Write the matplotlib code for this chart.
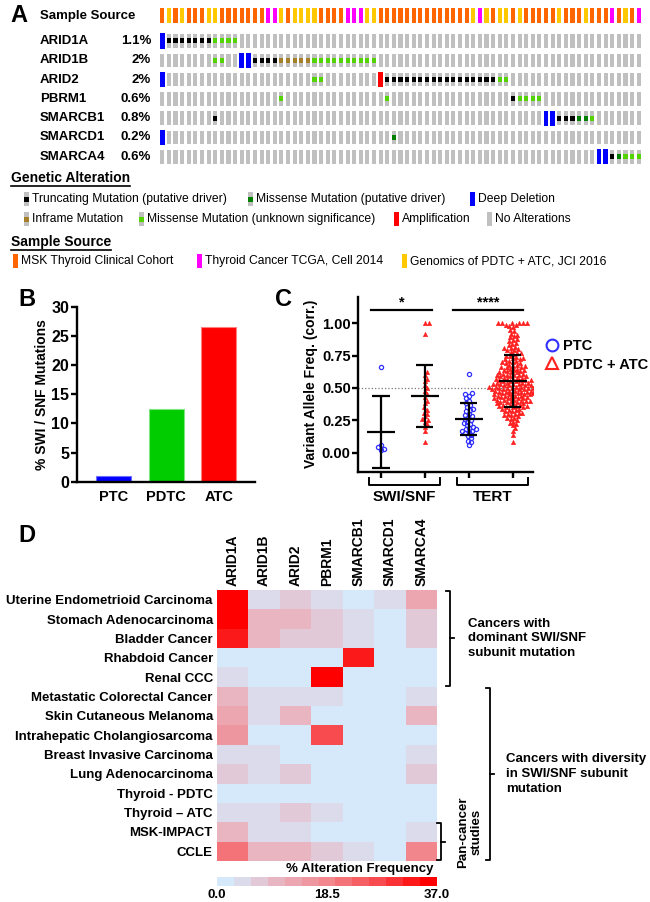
import numpy as np
import matplotlib
matplotlib.use('Agg')
import matplotlib.pyplot as plt
import matplotlib.transforms as mtransforms
from matplotlib.colors import LinearSegmentedColormap, ListedColormap, Normalize
from matplotlib.lines import Line2D
from matplotlib.patches import Rectangle

plt.rcParams['font.family'] = ['Liberation Sans', 'DejaVu Sans']

# ---------------- data ----------------
# panel A: oncoprint
genes = ['ARID1A', 'ARID1B', 'ARID2', 'PBRM1', 'SMARCB1', 'SMARCD1', 'SMARCA4']
gene_pct = ['1.1%', '2%', '2%', '0.6%', '0.8%', '0.2%', '0.6%']
# O = MSK cohort, M = TCGA, Y = PDTC + ATC JCI
sample_source = 'OYOYOOOYYOOOOOOOMMYOYYYYOOOOMMMYYOOOOOOOOOOOOOOYMYOYYOYOOOOOYOOOYOOOMOYOM'
alterations = {
    'ARID1A': {'deep': [0], 'trunc': [1, 2, 3, 4, 5, 6, 7], 'miss_unk': [8, 9, 10, 11]},
    'ARID1B': {'miss_unk': [8, 9, 23, 24, 25, 26, 27, 28, 29, 30, 31, 32], 'deep': [12, 13],
               'trunc': [14, 15, 16, 17], 'inframe': [18, 19, 20, 21, 22]},
    'ARID2': {'deep': [0], 'miss_unk': [23, 24, 51, 52], 'amp': [33],
              'trunc': [34, 35, 36, 37, 38, 39, 40, 41, 42, 43, 44, 45, 46, 47, 48, 49, 50]},
    'PBRM1': {'miss_unk': [18, 34, 54, 55, 56, 57], 'trunc': [53]},
    'SMARCB1': {'trunc': [8, 60, 61, 62], 'deep': [58, 59], 'miss_drv': [63, 64], 'miss_unk': [65]},
    'SMARCD1': {'deep': [0], 'miss_drv': [35]},
    'SMARCA4': {'deep': [66, 67], 'trunc': [68], 'miss_drv': [69], 'miss_unk': [70, 71, 72]},
}

# panel B
b_groups = ['PTC', 'PDTC', 'ATC']
b_values = [1.0, 12.5, 26.5]

# panel C: variant allele frequencies
swi_ptc = [0.66, 0.06, 0.04, 0.03, 0.02]
swi_pdtc_atc = [1.0, 1.0, 0.92, 0.62, 0.60, 0.57, 0.55, 0.52, 0.50, 0.48, 0.45, 0.43, 0.40,
                0.38, 0.35, 0.33, 0.31, 0.30, 0.28, 0.26, 0.25, 0.24, 0.22, 0.20, 0.17, 0.08]
tert_ptc = [0.61, 0.46, 0.45, 0.44, 0.42, 0.40, 0.38, 0.37, 0.35, 0.34, 0.33, 0.32, 0.30,
            0.29, 0.28, 0.27, 0.26, 0.25, 0.24, 0.23, 0.22, 0.21, 0.20, 0.19, 0.18, 0.18,
            0.17, 0.17, 0.16, 0.15, 0.14, 0.13, 0.11, 0.09, 0.08, 0.06]
tert_pdtc_atc = [
    1.00, 1.00, 1.00, 1.00, 1.00, 1.00, 0.99, 0.99, 0.98, 0.97,
    0.95, 0.94, 0.92, 0.91, 0.90, 0.89, 0.88, 0.87, 0.86, 0.85,
    0.84, 0.83, 0.82, 0.81, 0.81, 0.80, 0.79, 0.79, 0.78, 0.77,
    0.77, 0.76, 0.75, 0.75, 0.74, 0.73, 0.73, 0.72, 0.72, 0.71,
    0.71, 0.70, 0.70, 0.69, 0.69, 0.68, 0.68, 0.67, 0.67, 0.66,
    0.66, 0.66, 0.65, 0.65, 0.64, 0.64, 0.64, 0.63, 0.63, 0.62,
    0.62, 0.62, 0.61, 0.61, 0.60, 0.60, 0.60, 0.60, 0.59, 0.59,
    0.59, 0.58, 0.58, 0.58, 0.57, 0.57, 0.57, 0.56, 0.56, 0.56,
    0.56, 0.55, 0.55, 0.55, 0.54, 0.54, 0.54, 0.54, 0.53, 0.53,
    0.53, 0.53, 0.52, 0.52, 0.52, 0.52, 0.51, 0.51, 0.51, 0.51,
    0.50, 0.50, 0.50, 0.50, 0.50, 0.50, 0.49, 0.49, 0.49, 0.49,
    0.48, 0.48, 0.48, 0.48, 0.47, 0.47, 0.47, 0.47, 0.46, 0.46,
    0.46, 0.46, 0.45, 0.45, 0.45, 0.45, 0.44, 0.44, 0.44, 0.44,
    0.43, 0.43, 0.43, 0.42, 0.42, 0.42, 0.42, 0.41, 0.41, 0.41,
    0.40, 0.40, 0.40, 0.40, 0.39, 0.39, 0.39, 0.38, 0.38, 0.38,
    0.37, 0.37, 0.37, 0.36, 0.36, 0.36, 0.35, 0.35, 0.35, 0.34,
    0.34, 0.33, 0.33, 0.32, 0.32, 0.31, 0.31, 0.30, 0.30, 0.29,
    0.29, 0.28, 0.27, 0.27, 0.26, 0.25, 0.24, 0.23, 0.22, 0.21,
    0.19, 0.17, 0.14, 0.08,
]

# panel D: % alteration frequency
d_genes = ['ARID1A', 'ARID1B', 'ARID2', 'PBRM1', 'SMARCB1', 'SMARCD1', 'SMARCA4']
d_cancers = ['Uterine Endometrioid Carcinoma', 'Stomach Adenocarcinoma', 'Bladder Cancer',
             'Rhabdoid Cancer', 'Renal CCC', 'Metastatic Colorectal Cancer',
             'Skin Cutaneous Melanoma', 'Intrahepatic Cholangiosarcoma',
             'Breast Invasive Carcinoma', 'Lung Adenocarcinoma', 'Thyroid - PDTC',
             'Thyroid \u2013 ATC', 'MSK-IMPACT', 'CCLE']
d_freq = [
    [37, 4, 7, 4, 0, 4, 13],
    [35, 10, 10, 7, 4, 0, 7],
    [33, 10, 7, 7, 4, 0, 7],
    [0, 0, 0, 0, 32, 0, 0],
    [4, 0, 0, 37, 0, 0, 0],
    [10, 4, 4, 4, 0, 0, 4],
    [12, 4, 10, 0, 0, 0, 10],
    [16, 0, 0, 27, 0, 0, 0],
    [4, 4, 0, 0, 0, 0, 4],
    [7, 4, 7, 0, 0, 0, 7],
    [0, 0, 0, 0, 0, 0, 0],
    [4, 4, 7, 4, 0, 0, 0],
    [10, 4, 4, 0, 0, 0, 4],
    [21, 10, 10, 8, 4, 0, 18],
]

# ---------------- style ----------------
W, H = 650, 902
fig = plt.figure(figsize=(W / 100, H / 100), dpi=100)

src_col = {'O': '#ff6600', 'M': '#ff00ff', 'Y': '#ffc800'}
alt_col = {'trunc': '#000000', 'miss_drv': '#008000', 'miss_unk': '#53d400',
           'inframe': '#a68028', 'deep': '#0000ff', 'amp': '#ff0000', 'none': '#c0c0c0'}
GRAY = '#c0c0c0'
LEG_FS = 8.7


def box(l, t, w, h):
    return fig.add_axes([l / W, 1 - (t + h) / H, w / W, h / H])


def ftext(x, y, s, **kw):
    return fig.text(x / W, 1 - y / H, s, **kw)


def underline(t):
    r = fig.canvas.get_renderer()
    bb = t.get_window_extent(renderer=r)
    fig.add_artist(Line2D([bb.x0 / W, bb.x1 / W], [(bb.y0 - 1) / H] * 2,
                          transform=fig.transFigure, color='k', lw=1.2))


# overlay axes in pixel units for legends
ov = box(0, 0, W, H)
ov.set_xlim(0, W)
ov.set_ylim(H, 0)
ov.axis('off')

# ---------------- panel A ----------------
n = len(sample_source)
axa = box(159, 5, 483, 162)
axa.set_xlim(-0.5, n - 0.5)
axa.set_ylim(6.53, -1.865)
axa.axis('off')
bw = 0.62
src_row = -1.32
axa.bar(range(n), 0.8, bottom=src_row - 0.4, width=bw,
        color=[src_col[s] for s in sample_source], lw=0)
for g, gene in enumerate(genes):
    axa.bar(range(n), 0.7, bottom=g - 0.35, width=bw, color=GRAY, lw=0)
    for kind, cols in alterations[gene].items():
        if kind in ('deep', 'amp'):
            axa.bar(cols, 0.78, bottom=g - 0.39, width=0.72, color=alt_col[kind], lw=0)
        else:
            axa.bar(cols, 0.26, bottom=g - 0.13, width=bw, color=alt_col[kind], lw=0)

tr = mtransforms.blended_transform_factory(fig.transFigure, axa.transData)
for g, gene in enumerate(genes):
    axa.text(40 / W, g, gene, transform=tr, ha='left', va='center',
             fontsize=9.5, fontweight='bold')
    axa.text(151 / W, g, gene_pct[g], transform=tr, ha='right', va='center',
             fontsize=9.5, fontweight='bold')
ftext(10, 15, 'A', fontsize=17, fontweight='bold', va='center')
ftext(40, 16, 'Sample Source', fontsize=9.5, fontweight='bold', va='center')

# genetic alteration legend
underline(ftext(11, 178, 'Genetic Alteration', fontsize=10, fontweight='bold', va='center'))
leg_rows = [
    (199, [('trunc', 'Truncating Mutation (putative driver)', 24),
           ('miss_drv', 'Missense Mutation (putative driver)', 248),
           ('deep', 'Deep Deletion', 470)]),
    (219, [('inframe', 'Inframe Mutation', 24),
           ('miss_unk', 'Missense Mutation (unknown significance)', 139),
           ('amp', 'Amplification', 394),
           ('none', 'No Alterations', 487)]),
]
for yy, items in leg_rows:
    for kind, label, xx in items:
        if kind in ('deep', 'amp', 'none'):
            ov.add_patch(Rectangle((xx, yy - 7), 5, 14, color=alt_col[kind], lw=0))
        else:
            ov.add_patch(Rectangle((xx, yy - 7), 5, 14, color=GRAY, lw=0))
            ov.add_patch(Rectangle((xx, yy - 2.5), 5, 5, color=alt_col[kind], lw=0))
        ov.text(xx + 8, yy, label, fontsize=LEG_FS, va='center', ha='left')

underline(ftext(11, 242, 'Sample Source', fontsize=10, fontweight='bold', va='center'))
for code, label, xx in [('O', 'MSK Thyroid Clinical Cohort', 13),
                        ('M', 'Thyroid Cancer TCGA, Cell 2014', 197),
                        ('Y', 'Genomics of PDTC + ATC, JCI 2016', 402)]:
    ov.add_patch(Rectangle((xx, 254), 5, 14, color=src_col[code], lw=0))
    ov.text(xx + 8, 261, label, fontsize=LEG_FS, va='center', ha='left')

# ---------------- panel B ----------------
axb = box(77, 306.7, 178, 175)
axb.bar(range(3), b_values, width=0.67, color=['#0000ff', '#00cc00', '#ff0000'],
        edgecolor=['#6f6fff', '#7fe57f', '#ff8080'], lw=0.8)
axb.set_xlim(-0.7, 2.69)
axb.set_ylim(0, 30)
axb.set_yticks(range(0, 31, 5))
axb.set_xticks(range(3))
axb.set_xticklabels(b_groups)
for s in ('top', 'right'):
    axb.spines[s].set_visible(False)
for s in ('left', 'bottom'):
    axb.spines[s].set_linewidth(1.7)
axb.tick_params(width=1.7, length=4, pad=1.5, labelsize=11.5)
axb.tick_params(axis='x', length=0, pad=6, labelsize=10.5)
for lab in axb.get_xticklabels() + axb.get_yticklabels():
    lab.set_fontweight('bold')
axb.set_ylabel('% SWI / SNF Mutations', fontsize=10, fontweight='bold')
axb.yaxis.set_label_coords(-0.155, 0.5)
ftext(18, 300, 'B', fontsize=17, fontweight='bold', va='center')

# ---------------- panel C ----------------
axc = box(358.3, 296.7, 175, 175)
axc.set_xlim(-0.51, 3.47)
axc.set_ylim(-0.147, 1.205)
sx, sy = 43.9, 129.4   # pixels per data unit
diam = 3.8


def swarm(vals):
    ys = np.asarray(vals) * sy
    offs = np.zeros(len(ys))
    px, py = [], []
    for i in np.argsort(ys, kind='stable'):
        y = ys[i]
        cands = [0.0]
        for a, b in zip(px, py):
            dy = abs(y - b)
            if dy < diam:
                dx = np.sqrt(diam ** 2 - dy ** 2)
                cands += [a + dx, a - dx]
        cands.sort(key=abs)
        for c in cands:
            if all((c - a) ** 2 + (y - b) ** 2 >= diam ** 2 - 1e-6 for a, b in zip(px, py)):
                break
        offs[i] = c
        px.append(c)
        py.append(y)
    return offs / sx


groups = [swi_ptc, swi_pdtc_atc, tert_ptc, tert_pdtc_atc]
for k, vals in enumerate(groups):
    xs = k + swarm(vals)
    if k % 2 == 0:
        axc.plot(xs, vals, 'o', ms=3.0, mfc='none', mec='#3030ff', mew=0.9, zorder=3)
    else:
        axc.plot(xs, vals, '^', ms=3.3, color='#ff2020', mec='#ff2020', mew=0.3, zorder=3)
    m, sd = np.mean(vals), np.std(vals, ddof=1)
    axc.hlines(m, k - 0.32, k + 0.32, color='k', lw=1.6, zorder=4)
    axc.hlines([m - sd, m + sd], k - 0.2, k + 0.2, color='k', lw=1.6, zorder=4)
    axc.vlines(k, m - sd, m + sd, color='k', lw=1.6, zorder=4)

axc.axhline(0.5, color='#777777', ls=':', lw=0.9, zorder=1)
axc.plot([-0.22, 1.17], [1.10, 1.10], color='k', lw=1.6)
axc.text(0.47, 1.11, '*', ha='center', va='bottom', fontsize=10.5, fontweight='bold')
axc.plot([1.65, 3.24], [1.10, 1.10], color='k', lw=1.6)
axc.text(2.45, 1.11, '****', ha='center', va='bottom', fontsize=10.5, fontweight='bold')

axc.set_yticks([0, 0.25, 0.5, 0.75, 1.0])
axc.set_yticklabels(['0.00', '0.25', '0.50', '0.75', '1.00'])
axc.set_xticks(range(4))
axc.set_xticklabels([])
for s in ('top', 'right'):
    axc.spines[s].set_visible(False)
for s in ('left', 'bottom'):
    axc.spines[s].set_linewidth(1.7)
axc.tick_params(width=1.7, length=4, pad=1.5, labelsize=10.5)
for lab in axc.get_yticklabels():
    lab.set_fontweight('bold')
axc.set_ylabel('Variant Allele Freq. (corr.)', fontsize=10, fontweight='bold')
axc.yaxis.set_label_coords(-0.233, 0.5)

trc = mtransforms.blended_transform_factory(axc.transData, axc.transAxes)
for (x0, x1), lab in [((-0.26, 1.35), 'SWI/SNF'), ((1.74, 3.36), 'TERT')]:
    axc.plot([x0, x0, x1, x1], [-0.035, -0.077, -0.077, -0.035], color='k', lw=1.4,
             transform=trc, clip_on=False)
    axc.text((x0 + x1) / 2, -0.145, lab, transform=trc, ha='center', va='center',
             fontsize=11, fontweight='bold')

handles = [Line2D([], [], marker='o', ls='none', ms=8.5, mfc='none', mec='#3030ff', mew=1.5),
           Line2D([], [], marker='^', ls='none', ms=8.5, mfc='none', mec='#ff2020', mew=1.5)]
fig.legend(handles, ['PTC', 'PDTC + ATC'], loc='upper left',
           bbox_to_anchor=(535 / W, 1 - 329 / H), frameon=False,
           handlelength=0.9, handletextpad=0.35, labelspacing=0.3, borderpad=0.2,
           prop={'weight': 'bold', 'size': 10.5})
ftext(283, 300, 'C', fontsize=17, fontweight='bold', va='center', ha='center')

# ---------------- panel D ----------------
base = LinearSegmentedColormap.from_list(
    'alt', [(0, '#d6e9fb'), (0.09, '#dcdaeb'), (0.25, '#e8b6c2'), (0.5, '#f2878e'),
            (0.75, '#f84c50'), (1, '#ff0000')])
cmap = ListedColormap(base(np.linspace(0, 1, 13)))
norm = Normalize(0, 37)

axd = box(217, 590, 220, 271)
axd.imshow(np.array(d_freq), cmap=cmap, norm=norm, aspect='auto', interpolation='nearest')
axd.xaxis.tick_top()
axd.set_xticks(range(len(d_genes)))
axd.set_xticklabels(d_genes, rotation=90, fontsize=10, fontweight='bold')
axd.set_yticks(range(len(d_cancers)))
axd.set_yticklabels(d_cancers, fontsize=9.5, fontweight='bold')
axd.tick_params(length=0, pad=3)
for s in axd.spines.values():
    s.set_visible(False)
ftext(18, 535, 'D', fontsize=17, fontweight='bold', va='center')

trd = mtransforms.blended_transform_factory(axd.transAxes, axd.transData)


def bracket(x, r0, r1, tick=0.02, mid=True):
    y0, y1 = r0 - 0.45, r1 + 0.45
    axd.plot([x - tick, x, x, x - tick], [y0, y0, y1, y1], color='k', lw=1.3,
             transform=trd, clip_on=False)
    if mid:
        ym = (y0 + y1) / 2
        axd.plot([x, x + tick], [ym, ym], color='k', lw=1.3, transform=trd, clip_on=False)


bracket((450 - 217) / 220, 0, 4)
bracket((490 - 217) / 220, 5, 13)
bracket((441 - 217) / 220, 12, 13)
axd.text((468 - 217) / 220, 2, 'Cancers with\ndominant SWI/SNF\nsubunit mutation', transform=trd,
         ha='left', va='center', fontsize=9.5, fontweight='bold', linespacing=1.3)
axd.text((506 - 217) / 220, 9, 'Cancers with diversity\nin SWI/SNF subunit\nmutation', transform=trd,
         ha='left', va='center', fontsize=9.5, fontweight='bold', linespacing=1.3)
axd.text((470 - 217) / 220, 12.0, 'Pan-cancer\nstudies', transform=trd, rotation=90,
         ha='center', va='center', fontsize=9.5, fontweight='bold', linespacing=1.1)

axcb = box(217, 877, 220, 9)
sm = plt.cm.ScalarMappable(norm=norm, cmap=cmap)
cb = fig.colorbar(sm, cax=axcb, orientation='horizontal', ticks=[0, 18.5, 37])
cb.outline.set_visible(False)
cb.ax.set_xticklabels(['0.0', '18.5', '37.0'])
cb.ax.tick_params(length=0, labelsize=9.5, pad=2)
for lab in cb.ax.get_xticklabels():
    lab.set_fontweight('bold')
ftext(434, 869, '% Alteration Frequency', fontsize=9.5, fontweight='bold',
      ha='right', va='center')

fig.savefig('out.png', dpi=100)
